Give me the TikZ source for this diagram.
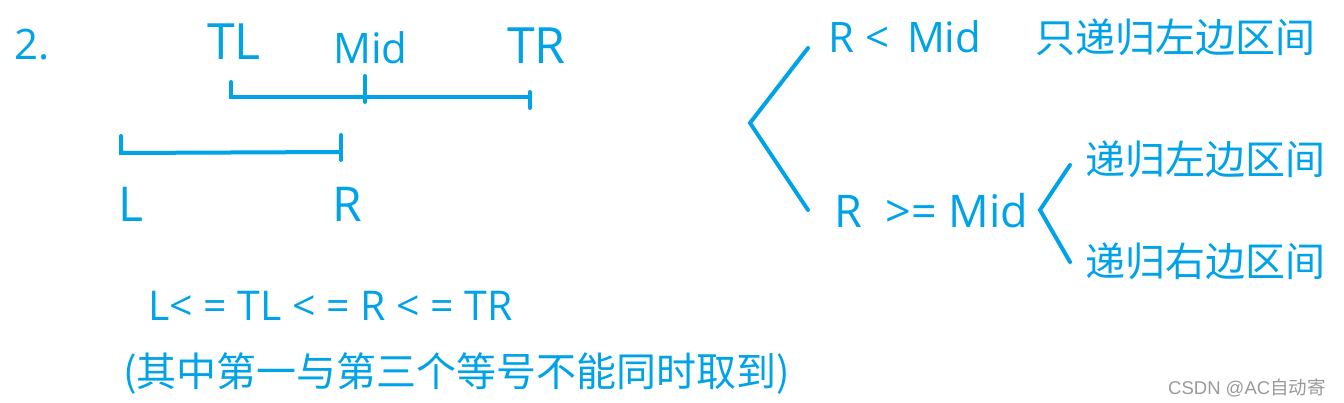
\documentclass[tikz,border=0pt]{standalone}
\usepackage{fontspec}
\setmainfont{Open Sans}
\newfontfamily\cjk{Noto Sans CJK SC}
\newfontfamily\wmfont{Liberation Sans}
\definecolor{pblue}{HTML}{00A2E8}
\definecolor{wmgray}{HTML}{9A9A9A}
\begin{document}
\begin{tikzpicture}[x=1pt,y=-1pt,
  txt/.style={inner sep=0pt, anchor=base west, text=pblue},
  seg/.style={draw=pblue, line width=4pt, line cap=round, line join=miter}]
\useasboundingbox (0,0) rectangle (1344,403);
% left labels
\node[txt, font=\fontsize{42}{42}\selectfont] (two) at (14,60) {2.};
\node[txt, font=\fontsize{50}{50}\selectfont] (tl) at (207,60) {TL};
\node[txt, font=\fontsize{42}{42}\selectfont] (mid) at (333,64) {Mid};
\node[txt, font=\fontsize{50}{50}\selectfont] (tr) at (507,64) {TR};
\node[txt, font=\fontsize{48}{48}\selectfont] (l) at (118,222) {L};
\node[txt, font=\fontsize{48}{48}\selectfont] (r) at (332,222) {R};
% segments
\draw[seg] (231,82) -- (231,97) -- (530,97);
\draw[seg] (365,76) -- (365,102);
\draw[seg] (530,92) -- (530,108);
\draw[seg] (121,136) -- (121,153) -- (341,152);
\draw[seg] (341,135) -- (341,160);
% inequality
\node[txt, font=\fontsize{41}{41}\selectfont] (ineq) at (148,321) {L< = TL < = R < = TR};
\node[txt, font=\cjk\fontsize{40}{40}\selectfont] (note) at (123,386) {(其中第一与第三个等号不能同时取到)};
% right side
\draw[seg] (808,48) -- (750,123) -- (808,210);
\node[txt, font=\fontsize{42}{42}\selectfont] (lt) at (828,53) {R <\, Mid};
\node[txt, font=\cjk\fontsize{40}{40}\selectfont] (onlyleft) at (1035,53) {只递归左边区间};
\node[txt, font=\fontsize{45}{45}\selectfont] (ge) at (834,228) {R\ \ >= Mid};
\draw[seg] (1070,165) -- (1040,210) -- (1070,262);
\node[txt, font=\cjk\fontsize{40}{40}\selectfont] (recl) at (1085,175) {递归左边区间};
\node[txt, font=\cjk\fontsize{40}{40}\selectfont] (recr) at (1085,277) {递归右边区间};
% watermark
\node[txt, text=wmgray, font=\wmfont\fontsize{18.5}{18.5}\selectfont] (wm) at (1168,394) {CSDN @AC{\cjk 自动寄}};
\end{tikzpicture}
\end{document}
